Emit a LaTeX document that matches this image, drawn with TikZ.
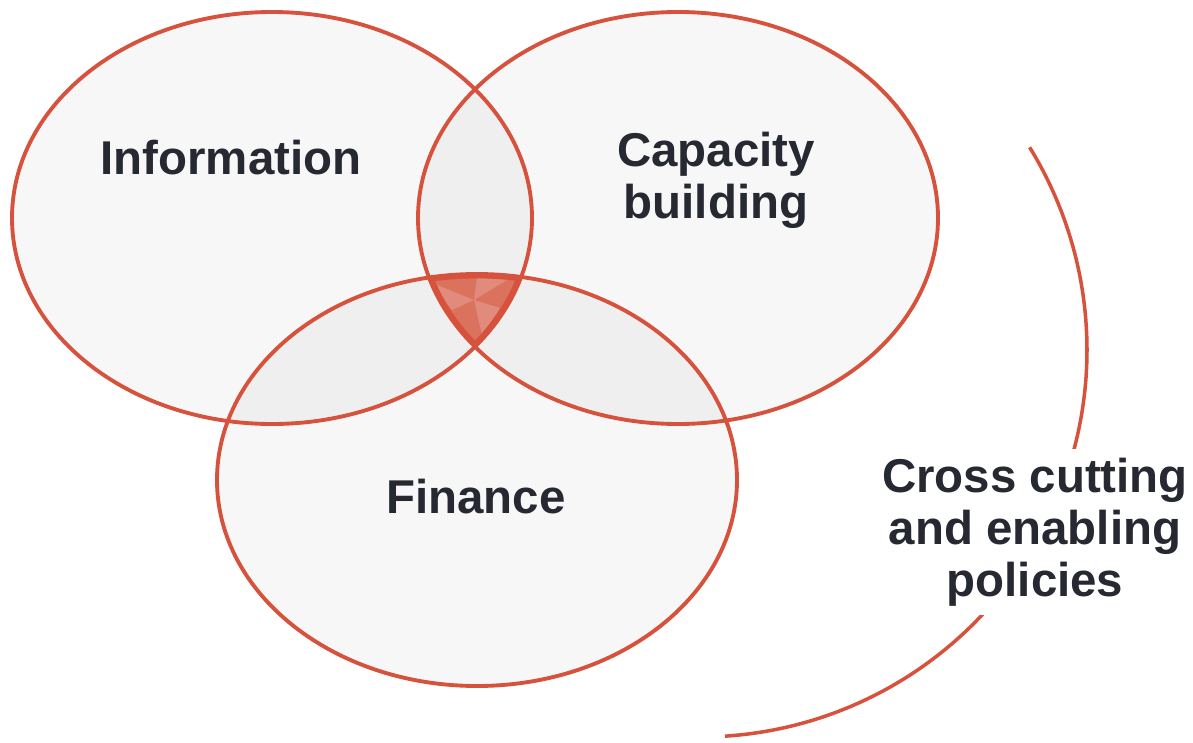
\documentclass[tikz,border=0pt]{standalone}
\usepackage{fontspec}
\setmainfont{Liberation Sans}
\usetikzlibrary{positioning}

\definecolor{vennred}{RGB}{214,82,60}
\definecolor{venncore}{RGB}{218,114,94}
\definecolor{venntext}{RGB}{38,40,50}

\begin{document}
\begin{tikzpicture}
[x=0.02cm, y=-0.02cm,
 shade/.style={fill=black, fill opacity=0.032},
 rim/.style={draw=vennred, line width=2.2pt},
 lbl/.style={font=\bfseries\fontsize{27}{29.5}\selectfont, text=venntext, align=center},
]
\useasboundingbox (0,0) rectangle (1193,743);

\coordinate (info) at (272,218);
\coordinate (capa) at (678,218);
\coordinate (fina) at (477,480);

% light fills, overlaps get darker
\foreach \c in {info,capa,fina}
  \fill[shade] (\c) ellipse [x radius=260, y radius=206];

% common core
\begin{scope}
  \clip (info) ellipse [x radius=260, y radius=206];
  \clip (capa) ellipse [x radius=260, y radius=206];
  \clip (fina) ellipse [x radius=260, y radius=206];
  \fill[venncore] (fina) ellipse [x radius=260, y radius=206];
  \fill[white, opacity=0.18] (474,300) -- (478,270) -- (520,272) -- cycle;
  \fill[white, opacity=0.18] (474,300) -- (430,282) -- (452,310) -- cycle;
  \fill[white, opacity=0.18] (474,300) -- (500,308) -- (482,335) -- cycle;
  \foreach \c in {info,capa,fina}
    \draw[vennred, line width=5pt] (\c) ellipse [x radius=260, y radius=206];
\end{scope}

\foreach \c in {info,capa,fina}
  \draw[rim] (\c) ellipse [x radius=260, y radius=206];

% outer arc
\draw[vennred, line width=2pt] plot[domain=-31.6:86.3, samples=80, smooth]
  ({700+387*cos(\x)},{350+387*sin(\x)});

\node[lbl] (infolbl) at (231,158) {Information};
\node[lbl] (capalbl) at (716,180) {Capacity\\building};
\node[lbl] (finalbl) at (476,497) {Finance};
\node[lbl, fill=white, inner sep=5pt] (cross) at (1035,532) {Cross cutting\\and enabling\\policies};
\end{tikzpicture}
\end{document}
